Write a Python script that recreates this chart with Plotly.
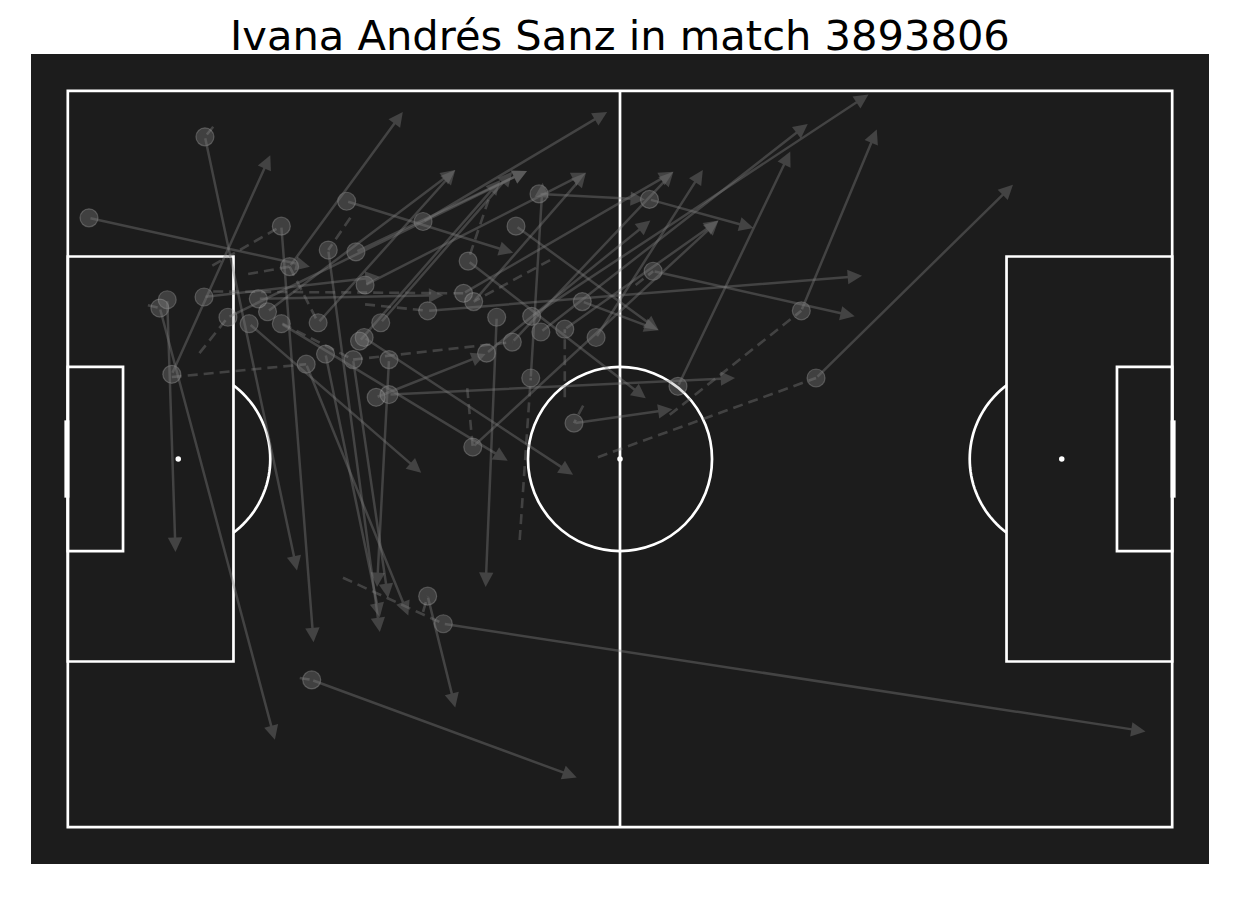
import math
import plotly.graph_objects as go

# パス（StatsBomb 120x80 のピッチ座標）
pass_x = [14.9, 2.3, 11.3, 10.8, 10.0, 23.2, 30.3, 38.6, 31.3, 21.7,
          24.1, 51.2, 63.2, 63.6, 79.7, 81.3, 39.1, 66.3, 40.8, 26.5,
          39.1, 55.0, 50.3, 43.5, 48.7, 32.2, 25.9, 19.7, 46.6, 28.3,
          34.9, 31.0, 28.0, 34.9, 23.2, 31.7, 34.0, 32.3, 48.3, 57.4,
          45.5, 54.0, 51.4, 50.4, 44.0, 14.8, 20.7, 17.4, 27.2, 33.5,
          55.9, 43.0, 44.1]
pass_y = [5.0, 13.8, 30.8, 22.7, 23.6, 14.7, 12.0, 14.2, 17.5, 24.0,
          19.1, 11.2, 11.8, 19.6, 23.9, 31.2, 23.9, 32.1, 57.9, 64.0,
          54.9, 36.1, 31.2, 18.5, 14.7, 26.8, 29.7, 25.3, 24.6, 17.3,
          29.2, 29.2, 28.6, 33.0, 25.3, 27.2, 25.2, 21.1, 27.3, 26.8,
          28.5, 25.9, 26.2, 24.5, 38.7, 22.4, 22.6, 24.6, 25.2, 33.3,
          22.9, 22.0, 22.9]
pass_end_x = [24.9, 26.3, 22.0, 11.7, 22.5, 26.7, 48.4, 58.6, 49.9, 42.1,
              36.4, 62.7, 74.5, 85.5, 87.9, 102.7, 86.3, 78.5, 117.1, 55.3,
              42.1, 65.7, 51.6, 62.8, 64.2, 54.9, 37.0, 38.4, 45.4, 33.9,
              33.6, 34.8, 33.9, 72.5, 47.8, 47.0, 48.3, 56.3, 65.8, 69.0,
              63.3, 70.7, 80.4, 87.0, 70.7, 33.9, 40.8, 49.9, 42.1, 45.4,
              64.2, 65.8, 56.3]
pass_end_y = [52.1, 19.1, 7.0, 50.1, 70.5, 59.9, 17.6, 2.3, 8.7, 8.6,
              2.3, 11.8, 14.9, 24.5, 4.2, 10.2, 20.1, 6.6, 69.6, 74.6,
              67.0, 34.6, 10.0, 33.4, 26.0, 41.7, 57.0, 41.5, 53.9, 58.8,
              53.9, 55.1, 57.2, 31.2, 40.2, 9.7, 8.8, 8.9, 8.8, 8.6,
              14.1, 14.1, 3.6, 0.4, 14.1, 20.2, 22.2, 8.7, 8.6, 28.6,
              26.0, 8.8, 8.9]

# ドリブル（破線）
carry_x = [15.8, 15.7, 30.7, 15.8, 11.3, 14.3, 19.6, 32.3, 24.1, 23.3,
           31.0, 52.4, 54.0, 43.4, 49.1, 57.6, 65.4, 29.9, 38.6, 25.2,
           56.0, 61.7, 8.7, 43.7]
carry_y = [3.9, 19.0, 13.8, 21.8, 31.1, 28.5, 19.9, 23.2, 19.1, 25.3,
           29.2, 18.4, 33.3, 32.3, 48.8, 39.8, 35.2, 52.9, 56.6, 63.8,
           34.2, 21.1, 23.3, 17.8]
carry_end_x = [14.9, 23.2, 28.3, 43.0, 25.9, 17.4, 24.1, 39.1, 27.2, 31.0,
               48.3, 44.1, 54.0, 44.0, 50.3, 81.3, 79.7, 40.8, 39.1, 26.5,
               55.0, 63.6, 10.0, 45.9]
carry_end_y = [5.0, 14.7, 17.3, 22.0, 29.7, 24.6, 19.1, 23.9, 25.2, 29.2,
               27.3, 22.9, 25.9, 38.7, 31.2, 31.2, 23.9, 57.9, 54.9, 64.0,
               36.1, 19.6, 23.6, 11.3]

title = "Ivana Andrés Sanz in match 3893806"

pitch_bg = "#1c1c1c"
line_col = "white"
mark_col = "rgba(125,125,125,0.4)"
lw = 2.7

fig = go.Figure()

# ドリブルを破線で
cx, cy = [], []
for x0, y0, x1, y1 in zip(carry_x, carry_y, carry_end_x, carry_end_y):
    cx += [x0, x1, None]
    cy += [y0, y1, None]
fig.add_trace(go.Scatter(x=cx, y=cy, mode="lines", hoverinfo="skip",
                         line=dict(color=mark_col, width=2.6, dash="10px,6px")))

# パスの始点
fig.add_trace(go.Scatter(x=pass_x, y=pass_y, mode="markers", hoverinfo="skip",
                         marker=dict(size=18, color="rgba(150,150,150,0.3)",
                                     line=dict(color="rgba(190,190,190,0.3)", width=1.2))))

# パス（矢印）
for x0, y0, x1, y1 in zip(pass_x, pass_y, pass_end_x, pass_end_y):
    fig.add_annotation(x=x1, y=y1, ax=x0, ay=y0, xref="x", yref="y",
                       axref="x", ayref="y", text="", showarrow=True,
                       arrowhead=2, arrowsize=1.15, arrowwidth=2.5,
                       arrowcolor=mark_col)

# ピッチのライン
shapes = []
def ln(x0, y0, x1, y1, w=lw):
    shapes.append(dict(type="line", x0=x0, y0=y0, x1=x1, y1=y1, layer="below",
                       line=dict(color=line_col, width=w)))

def rect(x0, y0, x1, y1):
    shapes.append(dict(type="rect", x0=x0, y0=y0, x1=x1, y1=y1, layer="below",
                       line=dict(color=line_col, width=lw)))

rect(0, 0, 120, 80)
ln(60, 0, 60, 80)
rect(0, 18, 18, 62)
rect(102, 18, 120, 62)
rect(0, 30, 6, 50)
rect(114, 30, 120, 50)
shapes.append(dict(type="circle", x0=50, y0=30, x1=70, y1=50, layer="below",
                   line=dict(color=line_col, width=lw)))
for sx in (12, 60, 108):
    shapes.append(dict(type="circle", x0=sx - 0.3, y0=39.7, x1=sx + 0.3, y1=40.3,
                       layer="below", fillcolor=line_col, line=dict(width=0)))
# ペナルティアーク
a0 = math.acos(6 / 10)
for cxp, sgn in ((12, 1), (108, -1)):
    pts = []
    for i in range(41):
        t = -a0 + 2 * a0 * i / 40
        pts.append((cxp + sgn * 10 * math.cos(t), 40 + 10 * math.sin(t)))
    path = "M " + " L ".join(f"{px:.3f},{py:.3f}" for px, py in pts)
    shapes.append(dict(type="path", path=path, layer="below",
                       line=dict(color=line_col, width=lw)))
# ゴール
ln(-0.1, 35.8, -0.1, 44.2, w=5)
ln(120.1, 35.8, 120.1, 44.2, w=5)

fig.update_layout(
    width=1240, height=900,
    margin=dict(l=23, r=39, t=46, b=44),
    paper_bgcolor="white", plot_bgcolor=pitch_bg,
    showlegend=False, shapes=shapes,
    title=dict(text=title, x=0.4935, xanchor="center", y=0.969, yanchor="middle",
               yref="container",
               font=dict(family="DejaVu Sans", size=41.6, color="black")),
    xaxis=dict(range=[-4, 124], visible=False, showgrid=False, zeroline=False),
    yaxis=dict(range=[84, -4], visible=False, showgrid=False, zeroline=False),
)

fig.write_html("out.html")
